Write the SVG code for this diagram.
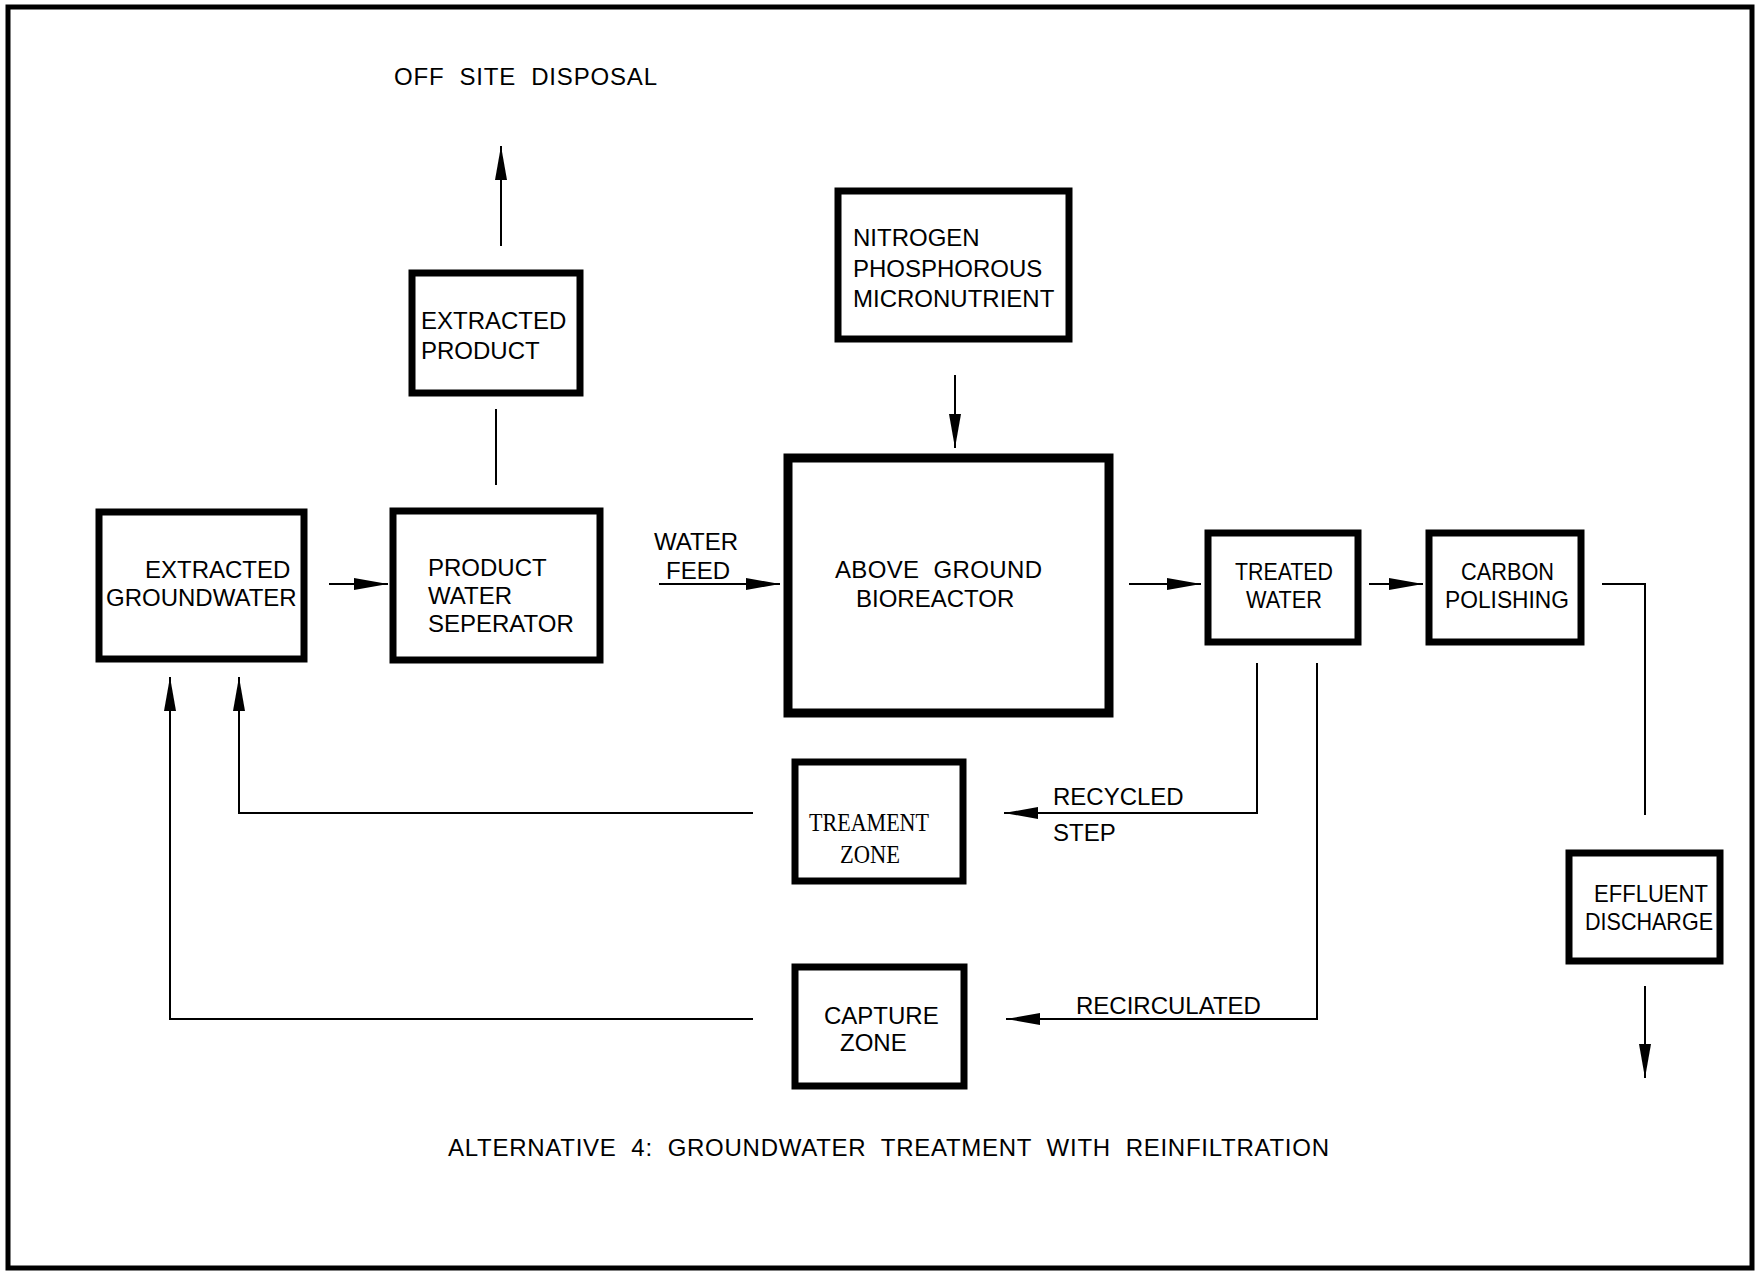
<svg xmlns="http://www.w3.org/2000/svg" width="1757" height="1273" viewBox="0 0 1757 1273">
<style>
.box{fill:#fff;stroke:#000;stroke-width:7}
.big{fill:#fff;stroke:#000;stroke-width:9}
.t{font-family:"Liberation Sans",Arial,sans-serif;font-size:24px;fill:#000}
.s{font-family:"Liberation Serif","Times New Roman",serif;font-size:25px;fill:#000}
.c{fill:none;stroke:#000;stroke-width:2}
</style>
<defs>
<marker id="ah" viewBox="0 0 34 12" refX="34" refY="6" markerWidth="34" markerHeight="12" markerUnits="userSpaceOnUse" orient="auto">
<polygon points="0,0 34,6 0,12" fill="#000"/>
</marker>
</defs>
<rect x="0" y="0" width="1757" height="1273" fill="#fff"/>
<rect x="8" y="7" width="1744" height="1261" fill="none" stroke="#000" stroke-width="5"/>

<g id="connectors">
<path class="c" d="M501,246 V146" marker-end="url(#ah)"/>
<path class="c" d="M496,485 V409"/>
<path class="c" d="M955,375 V448" marker-end="url(#ah)"/>
<path class="c" d="M329,584 H388" marker-end="url(#ah)"/>
<path class="c" d="M659,584 H780" marker-end="url(#ah)"/>
<path class="c" d="M1129,584 H1201" marker-end="url(#ah)"/>
<path class="c" d="M1369,584 H1423" marker-end="url(#ah)"/>
<path class="c" d="M1602,584 H1645 V815"/>
<path class="c" d="M1645,986 V1078" marker-end="url(#ah)"/>
<path class="c" d="M1257,663 V813 H1004" marker-end="url(#ah)"/>
<path class="c" d="M753,813 H239 V677" marker-end="url(#ah)"/>
<path class="c" d="M1317,663 V1019 H1006" marker-end="url(#ah)"/>
<path class="c" d="M753,1019 H170 V677" marker-end="url(#ah)"/>
</g>

<g id="off-site-disposal">
<text class="t" x="394" y="85" xml:space="preserve" textLength="263" lengthAdjust="spacing">OFF  SITE  DISPOSAL</text>
</g>

<g id="extracted-product">
<rect class="box" x="412" y="273" width="168" height="120"/>
<text class="t" x="421" y="329">EXTRACTED</text>
<text class="t" x="421" y="359">PRODUCT</text>
</g>

<g id="nutrients">
<rect class="box" x="838" y="191" width="231" height="148"/>
<text class="t" x="853" y="246">NITROGEN</text>
<text class="t" x="853" y="277">PHOSPHOROUS</text>
<text class="t" x="853" y="307">MICRONUTRIENT</text>
</g>

<g id="extracted-groundwater">
<rect class="box" x="99" y="512" width="205" height="147"/>
<text class="t" x="145" y="578">EXTRACTED</text>
<text class="t" x="106" y="606">GROUNDWATER</text>
</g>

<g id="product-water-separator">
<rect class="box" x="393" y="511" width="207" height="149"/>
<text class="t" x="428" y="576">PRODUCT</text>
<text class="t" x="428" y="604">WATER</text>
<text class="t" x="428" y="632">SEPERATOR</text>
</g>

<g id="water-feed">
<text class="t" x="654" y="550">WATER</text>
<text class="t" x="666" y="579">FEED</text>
</g>

<g id="bioreactor">
<rect class="big" x="788" y="458" width="321" height="255"/>
<text class="t" x="835" y="578" xml:space="preserve" textLength="207" lengthAdjust="spacing">ABOVE  GROUND</text>
<text class="t" x="856" y="607">BIOREACTOR</text>
</g>

<g id="treated-water">
<rect class="box" x="1208" y="533" width="150" height="109"/>
<text class="t" x="1235" y="580" textLength="98" lengthAdjust="spacingAndGlyphs">TREATED</text>
<text class="t" x="1246" y="608" textLength="76" lengthAdjust="spacingAndGlyphs">WATER</text>
</g>

<g id="carbon-polishing">
<rect class="box" x="1429" y="533" width="152" height="109"/>
<text class="t" x="1461" y="580" textLength="93" lengthAdjust="spacingAndGlyphs">CARBON</text>
<text class="t" x="1445" y="608" textLength="124" lengthAdjust="spacingAndGlyphs">POLISHING</text>
</g>

<g id="effluent-discharge">
<rect class="box" x="1569" y="853" width="151" height="108"/>
<text class="t" x="1594" y="902" textLength="114" lengthAdjust="spacingAndGlyphs">EFFLUENT</text>
<text class="t" x="1585" y="930" textLength="128" lengthAdjust="spacingAndGlyphs">DISCHARGE</text>
</g>

<g id="treatment-zone">
<rect class="box" x="795" y="762" width="168" height="119"/>
<text class="s" x="809" y="831" textLength="120" lengthAdjust="spacingAndGlyphs">TREAMENT</text>
<text class="s" x="840" y="863" textLength="60" lengthAdjust="spacingAndGlyphs">ZONE</text>
</g>

<g id="capture-zone">
<rect class="box" x="795" y="967" width="169" height="119"/>
<text class="t" x="824" y="1024">CAPTURE</text>
<text class="t" x="840" y="1051">ZONE</text>
</g>

<g id="labels">
<text class="t" x="1053" y="805">RECYCLED</text>
<text class="t" x="1053" y="841">STEP</text>
<text class="t" x="1076" y="1014">RECIRCULATED</text>
<text class="t" x="448" y="1156" xml:space="preserve" textLength="881" lengthAdjust="spacing">ALTERNATIVE  4:  GROUNDWATER  TREATMENT  WITH  REINFILTRATION</text>
</g>
</svg>
